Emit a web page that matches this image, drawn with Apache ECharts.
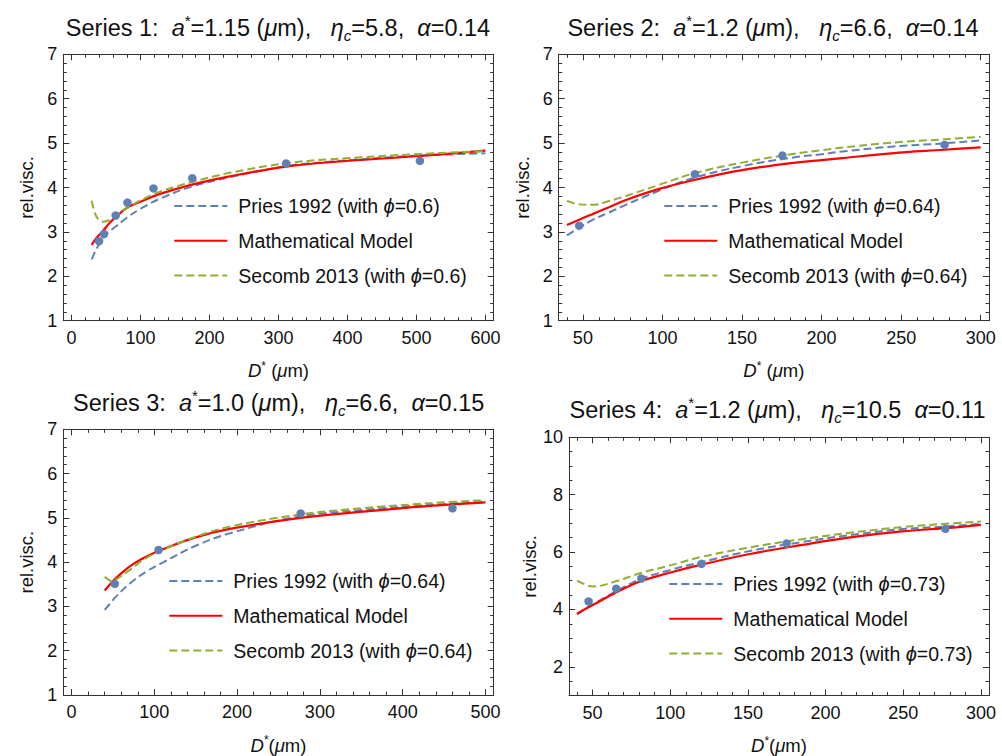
<!DOCTYPE html>
<html>
<head>
<meta charset="utf-8">
<script src="https://cdn.jsdelivr.net/npm/echarts@6/dist/echarts.min.js"></script>
<style>
  html, body { margin: 0; padding: 0; background: #ffffff; }
  #chart { width: 1002px; height: 756px; }
</style>
</head>
<body>
<div id="chart"></div>
<script>
// ---- Series 1 ----
const s1MeasX = [39.8, 47, 64, 81, 118.8, 175, 311, 505];
const s1MeasY = [2.79, 2.95, 3.37, 3.66, 3.98, 4.21, 4.54, 4.60];
const s1CurveX = [29, 35, 40, 46, 55, 64, 80, 100, 127, 176, 229, 311, 374, 505, 600];
const s1Pries  = [2.38, 2.58, 2.73, 2.87, 3.01, 3.12, 3.32, 3.52, 3.74, 4.03, 4.23, 4.48, 4.58, 4.72, 4.77];
const s1Model  = [2.71, 2.84, 2.93, 3.03, 3.20, 3.33, 3.54, 3.68, 3.85, 4.07, 4.25, 4.47, 4.57, 4.71, 4.83];
const s1Secomb = [3.70, 3.38, 3.27, 3.23, 3.27, 3.35, 3.53, 3.71, 3.90, 4.13, 4.33, 4.545, 4.635, 4.755, 4.82];

// ---- Series 2 ----
const s2MeasX = [47.7, 120.4, 175.4, 277.3];
const s2MeasY = [3.14, 4.30, 4.72, 4.96];
const s2CurveX = [40, 48, 56, 66, 77, 98, 120, 150, 181, 200, 213, 244, 277, 300];
const s2Pries  = [2.92, 3.10, 3.27, 3.43, 3.61, 3.93, 4.22, 4.48, 4.67, 4.75, 4.81, 4.92, 4.995, 5.06];
const s2Model  = [3.155, 3.28, 3.40, 3.55, 3.72, 3.97, 4.17, 4.39, 4.55, 4.615, 4.66, 4.77, 4.85, 4.905];
const s2Secomb = [3.70, 3.62, 3.61, 3.69, 3.81, 4.06, 4.32, 4.56, 4.75, 4.84, 4.90, 5.01, 5.085, 5.14];

// ---- Series 3 ----
const s3MeasX = [52.2, 105.1, 276.8, 460.2];
const s3MeasY = [3.51, 4.275, 5.10, 5.215];
const s3CurveX = [40, 49, 53, 70, 90, 110, 150, 191, 272, 352, 433, 500];
const s3Pries  = [2.92, 3.12, 3.21, 3.51, 3.785, 3.99, 4.37, 4.65, 5.02, 5.18, 5.29, 5.37];
const s3Model  = [3.36, 3.55, 3.63, 3.90, 4.12, 4.29, 4.56, 4.75, 4.99, 5.14, 5.27, 5.35];
const s3Secomb = [3.67, 3.575, 3.60, 3.82, 4.09, 4.275, 4.575, 4.80, 5.065, 5.22, 5.33, 5.40];

// ---- Series 4 ----
const s4MeasX = [47.4, 65.2, 81.4, 120.1, 174.9, 277.1];
const s4MeasY = [4.28, 4.72, 5.08, 5.59, 6.30, 6.81];
const s4CurveX = [40, 47, 50, 65, 81, 99, 120, 152, 185, 217, 249, 277, 300];
const s4Pries  = [3.83, 4.08, 4.17, 4.63, 5.06, 5.36, 5.65, 6.045, 6.35, 6.60, 6.80, 6.89, 6.985];
const s4Model  = [3.85, 4.07, 4.15, 4.59, 4.98, 5.27, 5.56, 5.94, 6.25, 6.52, 6.72, 6.835, 6.95];
const s4Secomb = [5.00, 4.83, 4.80, 4.98, 5.27, 5.52, 5.83, 6.17, 6.45, 6.68, 6.87, 6.985, 7.065];

// ---- Panel parameters (title text) ----
const seriesNo = [1, 2, 3, 4];
const aStar    = ['1.15', '1.2', '1.0', '1.2'];
const etaC     = ['5.8', '6.6', '6.6', '10.5'];
const etaSep   = [',', ',', ',', ''];
const alphaVal = ['0.14', '0.14', '0.15', '0.11'];
const phiVal   = ['0.6', '0.64', '0.64', '0.73'];

// ---- Tick labels ----
const xTicks1 = [0, 100, 200, 300, 400, 500, 600];
const xTicks2 = [50, 100, 150, 200, 250, 300];
const xTicks3 = [0, 100, 200, 300, 400, 500];
const xTicks4 = [50, 100, 150, 200, 250, 300];
const yTicks1 = [1, 2, 3, 4, 5, 6, 7];
const yTicks4 = [2, 4, 6, 8, 10];

const FONT = '"Liberation Sans", Arial, Helvetica, sans-serif';
const BLUE = '#5E81B5', RED = '#FF0000', GREEN = '#8FB032';
const INK = '#111111', FRAME = '#333333';
const NB = '\u00A0';

function minorTicks(lo, hi, step, major) {
  const out = [];
  const k0 = Math.ceil(lo / step - 1e-9), k1 = Math.floor(hi / step + 1e-9);
  for (let k = k0; k <= k1; k++) {
    const v = +(k * step).toFixed(4);
    const r = v / major;
    if (Math.abs(r - Math.round(r)) > 1e-6 && v > lo && v < hi) out.push(v);
  }
  return out;
}

function titleRich(i) {
  const sp = n => NB.repeat(n);
  return '{n|Series ' + seriesNo[i] + ':' + sp(2) + '}{i|a}{sup|*}{n|=' + aStar[i] + ' (}{i|\u03bc}{n|m),' + sp(3) +
    '}{i|\u03b7}{sub|c}{n|=' + etaC[i] + etaSep[i] + sp(2) + '}{i|\u03b1}{n|=' + alphaVal[i] + '}';
}

const panels = [
  { box: { left: 63.3, top: 54.3, width: 430.4, height: 266.4, xMin: -12, xMax: 612, yMin: 1, yMax: 7 },
    cx: 278, ty: 13, lx: 173.3, ly: 196, gapName: '\u00A0',
    xMajor: xTicks1, yMajor: yTicks1, xStep: 20, yStep: 0.2,
    cx_: s1CurveX, pries: s1Pries, model: s1Model, secomb: s1Secomb, mx: s1MeasX, my: s1MeasY },
  { box: { left: 558.7, top: 54.3, width: 430.3, height: 266.4, xMin: 34.8, xMax: 305.2, yMin: 1, yMax: 7 },
    cx: 773, ty: 13, lx: 663.3, ly: 196, gapName: '\u00A0',
    xMajor: xTicks2, yMajor: yTicks1, xStep: 10, yStep: 0.2,
    cx_: s2CurveX, pries: s2Pries, model: s2Model, secomb: s2Secomb, mx: s2MeasX, my: s2MeasY },
  { box: { left: 63.3, top: 429.3, width: 430.4, height: 265.7, xMin: -10, xMax: 510, yMin: 1, yMax: 7 },
    cx: 278.7, ty: 388, lx: 168.3, ly: 571, gapName: '',
    xMajor: xTicks3, yMajor: yTicks1, xStep: 20, yStep: 0.2,
    cx_: s3CurveX, pries: s3Pries, model: s3Model, secomb: s3Secomb, mx: s3MeasX, my: s3MeasY },
  { box: { left: 569, top: 437.3, width: 420, height: 258.4, xMin: 34.8, xMax: 305.2, yMin: 1, yMax: 10 },
    cx: 777.5, ty: 395, lx: 668.3, ly: 574, gapName: '',
    xMajor: xTicks4, yMajor: yTicks4, xStep: 10, yStep: 0.5,
    cx_: s4CurveX, pries: s4Pries, model: s4Model, secomb: s4Secomb, mx: s4MeasX, my: s4MeasY }
];

const titleRichStyles = {
  n:   { fontSize: 23.5, lineHeight: 30, fontFamily: FONT, color: INK },
  i:   { fontSize: 23.5, lineHeight: 30, fontFamily: FONT, fontStyle: 'italic', color: INK },
  sup: { fontSize: 15, lineHeight: 15, fontFamily: FONT, color: INK, verticalAlign: 'top' },
  sub: { fontSize: 15, lineHeight: 14, fontFamily: FONT, fontStyle: 'italic', color: INK, verticalAlign: 'bottom' }
};
const nameRichStyles = {
  n:   { fontSize: 18.5, lineHeight: 22, fontFamily: FONT, color: INK },
  i:   { fontSize: 18.5, lineHeight: 22, fontFamily: FONT, fontStyle: 'italic', color: INK },
  sup: { fontSize: 12, lineHeight: 12, fontFamily: FONT, color: INK, verticalAlign: 'top' }
};

const grid = [], xAxis = [], yAxis = [], series = [], title = [], legend = [];
const tickLine = { color: FRAME, width: 1 };
const pairs = (xs, ys) => xs.map((x, k) => [x, ys[k]]);

panels.forEach((P, g) => {
  const B = P.box;
  grid.push({ left: B.left, top: B.top, width: B.width, height: B.height });

  const xi = xAxis.length, yi = yAxis.length;
  const xMinor = minorTicks(B.xMin, B.xMax, P.xStep, P.xMajor[1] - P.xMajor[0]);
  const yMinor = minorTicks(B.yMin, B.yMax, P.yStep, P.yMajor[1] - P.yMajor[0]);
  const xBase = () => ({ type: 'value', gridIndex: g, min: B.xMin, max: B.xMax, splitLine: { show: false } });
  const yBase = () => ({ type: 'value', gridIndex: g, min: B.yMin, max: B.yMax, splitLine: { show: false } });
  const major = vals => ({ show: true, inside: true, length: 6, customValues: vals, lineStyle: tickLine });
  const minor = vals => ({ show: true, inside: true, length: 3.5, customValues: vals, lineStyle: tickLine });
  const frameLine = { show: true, onZero: false, lineStyle: tickLine };
  const noLine = { show: false, onZero: false };

  // bottom axis with labels and name, then minor ticks, then mirrored top edge
  xAxis.push(Object.assign(xBase(), {
    position: 'bottom', axisLine: frameLine, axisTick: major(P.xMajor),
    axisLabel: { show: true, customValues: P.xMajor, margin: 8, fontSize: 18, color: INK, fontFamily: FONT },
    name: '{i|D}{sup|*}{n|' + P.gapName + '(}{i|\u03bc}{n|m)}', nameLocation: 'middle', nameGap: 39,
    nameTextStyle: { rich: nameRichStyles }
  }));
  xAxis.push(Object.assign(xBase(), { position: 'bottom', axisLine: noLine, axisTick: minor(xMinor), axisLabel: { show: false } }));
  xAxis.push(Object.assign(xBase(), { position: 'top', axisLine: frameLine, axisTick: major(P.xMajor), axisLabel: { show: false } }));
  xAxis.push(Object.assign(xBase(), { position: 'top', axisLine: noLine, axisTick: minor(xMinor), axisLabel: { show: false } }));

  yAxis.push(Object.assign(yBase(), {
    position: 'left', axisLine: frameLine, axisTick: major(P.yMajor),
    axisLabel: { show: true, customValues: P.yMajor, margin: 6, fontSize: 18, color: INK, fontFamily: FONT },
    name: 'rel.visc.', nameLocation: 'middle', nameGap: 27,
    nameTextStyle: { fontSize: 18.5, color: INK, fontFamily: FONT }
  }));
  yAxis.push(Object.assign(yBase(), { position: 'left', axisLine: noLine, axisTick: minor(yMinor), axisLabel: { show: false } }));
  yAxis.push(Object.assign(yBase(), { position: 'right', axisLine: frameLine, axisTick: major(P.yMajor), axisLabel: { show: false } }));
  yAxis.push(Object.assign(yBase(), { position: 'right', axisLine: noLine, axisTick: minor(yMinor), axisLabel: { show: false } }));

  title.push({
    text: titleRich(g), left: P.cx, top: P.ty, textAlign: 'center', padding: 0,
    textStyle: { fontSize: 23.5, fontWeight: 'normal', fontFamily: FONT, color: INK, rich: titleRichStyles }
  });

  const priesName = 'Pries 1992 (with \u03d5=' + phiVal[g] + ')';
  const modelName = 'Mathematical Model';
  const secombName = 'Secomb 2013 (with \u03d5=' + phiVal[g] + ')';

  legend.push({
    orient: 'vertical', left: P.lx, top: P.ly, padding: 0,
    itemWidth: 53, itemHeight: 14, itemGap: 14.8, selectedMode: false,
    itemStyle: { color: 'rgba(0,0,0,0)', borderWidth: 0, opacity: 0 },
    data: [priesName, modelName, secombName],
    formatter: name => name.replace('\u03d5', '{i|\u03d5}'),
    textStyle: {
      fontSize: 19.5, lineHeight: 20, color: INK, fontFamily: FONT, padding: [0, 0, 0, 6],
      rich: { i: { fontSize: 20, lineHeight: 20, fontStyle: 'italic', fontFamily: FONT, color: INK } }
    }
  });

  const common = { xAxisIndex: xi, yAxisIndex: yi, symbol: 'none', smooth: 0.4, silent: true };
  series.push(Object.assign({ type: 'line', name: priesName, data: pairs(P.cx_, P.pries),
    lineStyle: { color: BLUE, width: 2, type: [8, 4] }, itemStyle: { color: BLUE }, z: 2 }, common));
  series.push(Object.assign({ type: 'line', name: modelName, data: pairs(P.cx_, P.model),
    lineStyle: { color: RED, width: 2.2, type: 'solid' }, itemStyle: { color: RED }, z: 3 }, common));
  series.push(Object.assign({ type: 'line', name: secombName, data: pairs(P.cx_, P.secomb),
    lineStyle: { color: GREEN, width: 2, type: [8, 4] }, itemStyle: { color: GREEN }, z: 4 }, common));
  series.push({ type: 'scatter', name: 'measured ' + seriesNo[g], xAxisIndex: xi, yAxisIndex: yi,
    data: pairs(P.mx, P.my), symbol: 'circle', symbolSize: 8.5, itemStyle: { color: BLUE, opacity: 1 }, z: 5, silent: true });
});

const chart = echarts.init(document.getElementById('chart'), null, { renderer: 'svg', width: 1002, height: 756 });
chart.setOption({
  animation: false,
  backgroundColor: '#ffffff',
  textStyle: { fontFamily: FONT },
  title, legend, grid, xAxis, yAxis, series
});
</script>
</body>
</html>
